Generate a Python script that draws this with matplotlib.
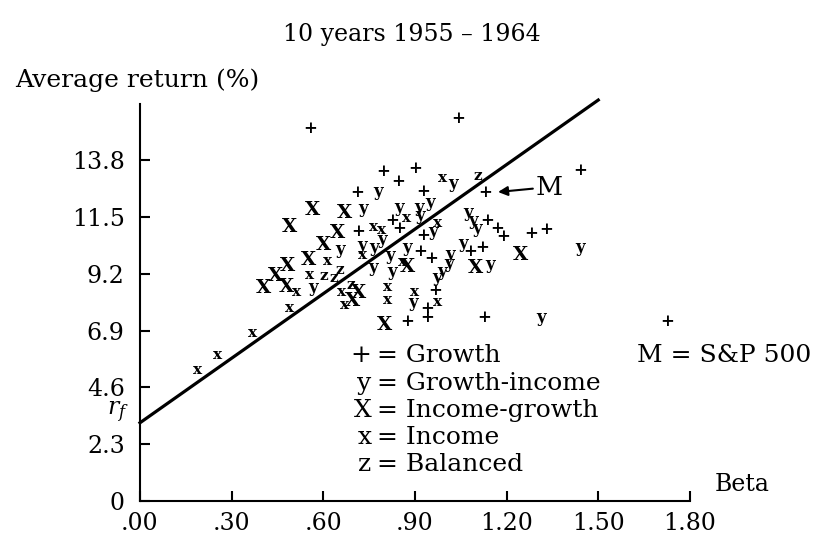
import matplotlib
matplotlib.use("Agg")
import matplotlib.pyplot as plt

plt.rcParams['font.family'] = ['DejaVu Serif']
plt.rcParams['mathtext.fontset'] = 'dejavuserif'

# (beta, average return %)
growth_beta = [0.556, 0.795, 0.900, 0.845, 0.710, 0.926, 1.041, 1.440, 0.825, 0.848,
               0.714, 0.926, 1.136, 1.169, 1.188, 1.280, 1.329, 0.917, 0.953, 1.080,
               1.119, 0.966, 0.939, 0.939, 0.874, 1.126, 1.725]
growth_ret = [15.08, 13.37, 13.46, 12.93, 12.48, 12.56, 15.52, 13.41, 11.35, 11.06,
              10.90, 10.74, 11.38, 11.02, 10.70, 10.82, 10.98, 10.09, 9.84, 10.09,
              10.25, 8.54, 7.81, 7.45, 7.25, 7.45, 7.25]

gi_beta = [0.779, 0.730, 0.848, 0.913, 0.949, 1.025, 0.917, 0.655, 0.727, 0.765,
           0.792, 0.820, 0.874, 0.763, 0.825, 0.566, 0.894, 1.074, 1.090, 1.103,
           1.057, 1.015, 1.011, 0.989, 0.972, 1.146, 1.440, 1.313, 0.959]
gi_ret = [12.56, 11.87, 11.91, 11.91, 12.11, 12.88, 11.55, 10.17, 10.37, 10.25,
          10.58, 9.96, 10.25, 9.44, 9.28, 8.66, 8.02, 11.70, 11.36, 11.06,
          10.45, 9.97, 9.60, 9.28, 9.04, 9.56, 10.25, 7.41, 10.90]

ig_beta = [0.566, 0.668, 0.491, 0.645, 0.602, 0.550, 0.484, 0.445, 0.403, 0.478,
           0.714, 0.697, 0.799, 0.877, 1.097, 1.244]
ig_ret = [11.78, 11.66, 11.10, 10.85, 10.37, 9.76, 9.52, 9.12, 8.63, 8.66,
          8.42, 8.10, 7.13, 9.48, 9.44, 9.96]

inc_beta = [0.763, 0.792, 0.874, 0.975, 0.992, 0.727, 0.615, 0.556, 0.511, 0.661,
            0.671, 0.812, 0.809, 0.900, 0.975, 0.491, 0.370, 0.255, 0.190, 0.861]
inc_ret = [11.10, 10.98, 11.46, 11.26, 13.08, 9.97, 9.72, 9.16, 8.46, 8.46,
           7.94, 8.66, 8.14, 8.46, 8.06, 7.81, 6.80, 5.90, 5.30, 9.68]

bal_beta = [0.602, 0.635, 0.655, 0.691, 1.106]
bal_ret = [9.11, 9.03, 9.35, 8.75, 13.17]

market_beta = 1.129
market_ret = 12.48

line_beta = [0.0, 1.5]
line_ret = [3.16, 16.25]

xticks = [0.0, 0.3, 0.6, 0.9, 1.2, 1.5, 1.8]
xlabels = ['.00', '.30', '.60', '.90', '1.20', '1.50', '1.80']
yticks = [0, 2.3, 4.6, 6.9, 9.2, 11.5, 13.8]
ylabels = ['0', '2.3', '4.6', '6.9', '9.2', '11.5', '13.8']

fig = plt.figure(figsize=(8.22, 5.37), dpi=100)
ax = fig.add_axes([0.1703, 0.0676, 0.669, 0.753])

groups = [('+', growth_beta, growth_ret, 12),
          ('y', gi_beta, gi_ret, 12),
          ('X', ig_beta, ig_ret, 14),
          ('x', inc_beta, inc_ret, 11),
          ('z', bal_beta, bal_ret, 11)]
for sym, bs, rs, fs in groups:
    for b, r in zip(bs, rs):
        ax.text(b, r, sym, ha='center', va='center', fontsize=fs, fontweight='bold')

# market point
ax.text(market_beta, market_ret, '+', ha='center', va='center', fontsize=12,
        fontweight='bold')
ax.annotate('M', xy=(market_beta + 0.043, market_ret + 0.04), xytext=(1.295, 12.72),
            fontsize=19, ha='left', va='center',
            arrowprops=dict(arrowstyle='-|>', color='black', lw=1.5,
                            mutation_scale=14, shrinkA=0, shrinkB=0))

ax.plot(line_beta, line_ret, color='black', lw=2.3, clip_on=False)

ax.set_xlim(0, 1.8)
ax.set_ylim(0, 16.4)
ax.spines['top'].set_visible(False)
ax.spines['right'].set_visible(False)
ax.spines['left'].set_bounds(0, 16.1)
for s in ['left', 'bottom']:
    ax.spines[s].set_linewidth(1.5)

ax.set_xticks(xticks)
ax.set_xticklabels(xlabels)
ax.set_yticks(yticks)
ax.set_yticklabels(ylabels)
ax.tick_params(direction='in', length=7, width=1.5, labelsize=17)
ax.tick_params(axis='y', pad=11)
ax.tick_params(axis='x', pad=8)

# key
key_sym = ['+', 'y', 'X', 'x', 'z']
key_txt = ['Growth', 'Growth-income', 'Income-growth', 'Income', 'Balanced']
key_y = [5.9, 4.77, 3.67, 2.57, 1.45]
for s, t, yy in zip(key_sym, key_txt, key_y):
    ax.text(0.758, yy, s, ha='right', va='center', fontsize=18)
    ax.text(0.777, yy, '= ' + t, ha='left', va='center', fontsize=18)
ax.text(1.627, 5.9, 'M = S&P 500', ha='left', va='center', fontsize=18)

ax.text(-0.072, 3.6, r'$r_f$', ha='center', va='center', fontsize=17)
ax.text(1.882, 0.64, 'Beta', ha='left', va='center', fontsize=17)

fig.text(0.018, 0.851, 'Average return (%)', ha='left', va='center', fontsize=18)
fig.text(0.501, 0.935, '10 years 1955 \u2013 1964', ha='center', va='center', fontsize=17)

fig.savefig('out.png', dpi=100)
